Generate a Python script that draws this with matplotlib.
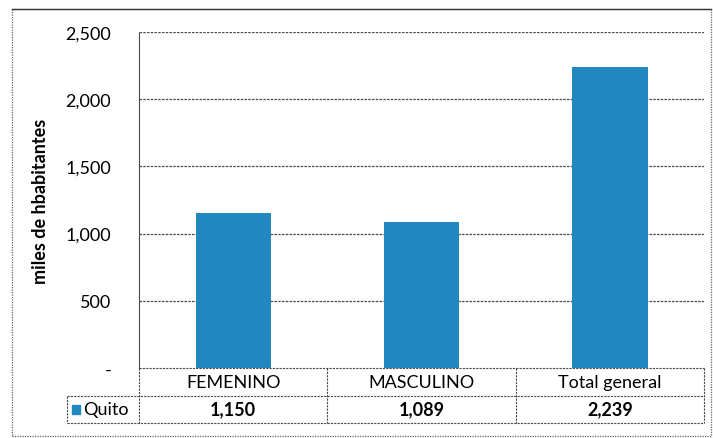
import matplotlib.pyplot as plt
from matplotlib.patches import Rectangle

plt.rcParams['font.family'] = ['Lato', 'DejaVu Sans']

# data
categories = ["FEMENINO", "MASCULINO", "Total general"]
values = [1150, 1089, 2239]
series_name = "Quito"
yticks = [0, 500, 1000, 1500, 2000, 2500]
ytick_labels = ["-", "500", "1,000", "1,500", "2,000", "2,500"]

bar_color = "#2387bf"
grid_color = "#4a4a4a"
dash = (0, (2, 1))

fig = plt.figure(figsize=(7.13, 4.39), dpi=100)
ax = fig.add_axes([139 / 713, 1 - 369 / 439, 565 / 713, 336 / 439])

x = range(len(categories))
ax.bar(x, values, width=0.4, color=bar_color, zorder=3)

ax.set_xlim(-0.5, len(categories) - 0.5)
ax.set_ylim(0, 2500)
ax.set_yticks(yticks)
ax.set_yticklabels(ytick_labels, fontsize=13)
ax.set_xticks([])
ax.tick_params(axis="y", length=0, pad=20)
for s in ["top", "right", "bottom"]:
    ax.spines[s].set_visible(False)
ax.spines["left"].set_linestyle(dash)
ax.spines["left"].set_color(grid_color)
ax.spines["left"].set_linewidth(0.8)
for t in yticks[1:]:
    ax.axhline(t, color=grid_color, lw=0.9, ls=dash, zorder=1)

ax.set_ylabel("miles de hbabitantes", fontsize=13, fontweight="bold", labelpad=12)

# data table below the plot (x in data units, y in axes units)
tr = ax.get_xaxis_transform()
row_h = 27.5 / 336
bounds = [-0.5, 0.5, 1.5, 2.5]
label_left = -0.5 - (139 - 67) / 188
lkw = dict(color=grid_color, lw=0.8, ls=dash, transform=tr, clip_on=False)
ax.plot([-0.5, 2.5], [0, 0], **lkw)
ax.plot([label_left, 2.5], [-row_h, -row_h], **lkw)
ax.plot([label_left, 2.5], [-2 * row_h, -2 * row_h], **lkw)
ax.plot([label_left, label_left], [-row_h, -2 * row_h], **lkw)
ax.plot([-0.5, -0.5], [0, -2 * row_h], **lkw)
for b in bounds[1:]:
    ax.plot([b, b], [0, -2 * row_h], **lkw)

for i, (cat, v) in enumerate(zip(categories, values)):
    ax.text(i, -row_h / 2, cat, transform=tr, ha="center", va="center",
            fontsize=13, clip_on=False)
    ax.text(i, -1.5 * row_h, f"{v:,}", transform=tr, ha="center", va="center",
            fontsize=13, fontweight="bold", clip_on=False)

# legend key in row label cell
fig.patches.append(Rectangle((72 / 713, 1 - 415 / 439), 8 / 713, 9 / 439,
                             transform=fig.transFigure, color=bar_color))
fig.text(83 / 713, 1 - 410 / 439, series_name, ha="left", va="center", fontsize=13)

# outer chart border
fig.patches.append(Rectangle((12 / 713, 1 - 437 / 439), 699 / 713, 427 / 439,
                             transform=fig.transFigure, fill=False,
                             ec="#666666", lw=0.9, ls=(0, (1, 1))))
fig.lines.append(plt.Line2D([12 / 713, 711 / 713], [1 - 10 / 439, 1 - 10 / 439],
                            transform=fig.transFigure, color="#333333", lw=1.0))

fig.savefig("out.png", dpi=100)
